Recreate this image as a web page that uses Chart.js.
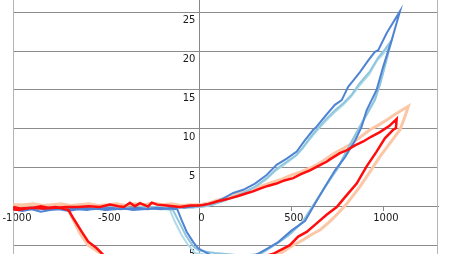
<!DOCTYPE html>
<html>
<head>
<meta charset="utf-8">
<script src="https://cdn.jsdelivr.net/npm/chart.js@4/dist/chart.umd.min.js"></script>
<style>
html,body{margin:0;padding:0;background:#fff;overflow:hidden;}
#wrap{position:relative;width:450px;height:254px;}
</style>
</head>
<body>
<div id="wrap"><canvas id="c" width="450" height="254"></canvas></div>
<script>
// ---- tick values ----
const xTicks = [-1000, -500, 0, 500, 1000];
const yTicks = [-5, 0, 5, 10, 15, 20, 25];

// ---- series: dark blue ----
const blueDarkX = [-1010,-960,-910,-860,-810,-760,-710,-660,-610,-560,-510,-460,-410,-360,-310,-260,-210,-160,-120,
  -97,-69,-34,-7,39,100,180,250,317,370,427,500,572,626,680,735,789,843,879,906,933,960,996,1042,1087,
  1015,969,951,915,870,843,806,771,734,680,635,617,570,527,473,418,364,301,237,183,129,75,21,
  -30,-80,-130,-180,-230,-280,-330,-380,-430,-480,-530,-580,-630,-680,-730,-780,-830,-880,-930,-980,-1010];
const blueDarkY = [-0.3,-0.5,-0.3,-0.6,-0.4,-0.3,-0.5,-0.3,-0.4,-0.2,-0.4,-0.3,-0.2,-0.4,-0.3,-0.2,-0.3,-0.2,-0.3,
  -1.7,-3.2,-4.5,-5.3,-5.9,-6.6,-7.0,-6.7,-6.0,-5.3,-4.5,-3.0,-1.8,0.4,2.6,4.7,6.4,8.5,10.3,12.4,13.7,15.0,18.0,21.4,25.1,
  22.3,20.1,19.9,18.8,17.3,16.5,15.4,13.7,13.1,11.6,10.3,9.9,8.5,7.1,6.2,5.4,4.1,3.0,2.2,1.8,1.1,0.5,0.3,
  0.1,-0.1,0.0,-0.2,-0.1,-0.3,-0.1,-0.2,-0.3,-0.1,-0.2,-0.3,-0.1,-0.2,-0.4,-0.2,-0.3,-0.1,-0.2,-0.4,-0.2];

// ---- series: mid light blue ----
const blueMidX = [-1010,-950,-890,-830,-770,-710,-650,-590,-530,-470,-410,-350,-290,-230,-180,
  -144,-111,-73,-35,-3,84,220,320,418,480,561,635,707,750,789,830,870,910,951,980,1005,1042,
  1005,967,924,870,825,780,735,680,635,600,560,527,473,418,364,301,237,183,129,75,20,
  -40,-100,-160,-220,-280,-340,-400,-460,-520,-580,-640,-700,-760,-820,-880,-940,-1010];
const blueMidY = [-0.2,-0.1,-0.3,-0.2,-0.1,-0.3,-0.2,-0.1,-0.3,-0.2,-0.1,-0.2,-0.3,-0.2,-0.2,
  -0.4,-1.9,-3.7,-5.0,-5.6,-5.9,-6.2,-6.2,-4.7,-3.7,-1.9,0.9,3.5,5.0,6.8,8.6,10.3,12.0,13.7,15.8,18.0,21.4,
  20.2,19.1,17.4,15.9,14.4,13.3,12.4,11.1,9.9,8.9,7.6,6.7,5.8,4.9,3.7,2.6,1.8,1.3,0.8,0.3,0.1,
  -0.1,0.0,-0.2,-0.1,0.0,-0.2,-0.1,-0.3,-0.1,-0.2,0.0,-0.1,-0.2,-0.1,0.0,-0.2,-0.1];

// ---- series: pale blue ----
const bluePaleX = [-1010,-940,-870,-800,-730,-660,-590,-520,-450,-380,-310,-240,-190,
  -160,-133,-97,-61,-24,60,200,320,436,500,555,630,700,745,785,825,865,905,945,975,1000,1032,
  995,960,920,865,820,775,730,675,630,595,555,520,470,415,360,300,235,180,125,70,20,
  -50,-120,-190,-260,-330,-400,-470,-540,-610,-680,-750,-820,-890,-960,-1010];
const bluePaleY = [-0.1,-0.2,0.0,-0.2,-0.1,-0.3,-0.1,-0.2,0.0,-0.2,-0.1,-0.2,-0.3,
  -0.4,-1.9,-3.6,-4.9,-5.9,-6.2,-6.4,-6.0,-4.45,-3.3,-2.0,0.7,3.2,4.8,6.6,8.4,10.2,11.9,13.6,15.6,17.8,20.9,
  19.6,18.7,17.0,15.5,14.1,13.0,12.1,10.8,9.6,8.6,7.4,6.5,5.6,4.7,3.5,2.5,1.7,1.2,0.7,0.3,0.0,
  0.0,-0.1,0.1,-0.1,0.0,-0.2,0.0,-0.1,0.1,-0.1,0.0,-0.1,0.0,-0.2,-0.1];

// ---- series: red ----
const redX = [-1010,-980,-940,-900,-860,-820,-780,-740,-710,
  -684,-638,-603,-557,-521,-450,-300,-100,100,250,400,490,535,581,635,689,744,790,852,906,960,1005,1050,1065,1069,
  1030,978,930,888,843,800,761,707,689,640,599,550,508,460,418,370,328,290,256,210,165,130,93,50,21,0,
  -50,-106,-180,-230,-259,-279,-322,-350,-377,-410,-440,-485,-539,-600,-660,-720,-780,-848,-910,-973,-1010];
const redY = [-0.3,-0.4,-0.2,-0.1,0.1,-0.1,0.0,-0.2,-0.4,
  -1.45,-3.2,-4.45,-5.3,-6.15,-6.9,-7.4,-7.7,-7.6,-7.0,-6.0,-4.9,-3.8,-3.2,-2.1,-1.0,0.0,1.3,3.0,5.2,7.1,8.8,9.9,10.1,11.3,
  10.4,9.6,9.0,8.4,7.9,7.3,6.9,6.1,5.8,5.2,4.7,4.2,3.7,3.4,3.0,2.7,2.35,2.0,1.76,1.4,1.1,0.9,0.7,0.4,0.26,0.2,
  0.2,0.0,0.2,0.3,0.55,0.05,0.5,0.1,0.55,0.0,0.1,0.3,0.0,0.1,0.0,0.0,-0.1,-0.2,-0.1,-0.2,0.0];

// ---- series: peach ----
const peachX = [-1010,-960,-910,-860,-810,-760,-715,
  -702,-650,-604,-539,-450,-300,-100,100,300,436,500,563,610,653,700,744,798,870,924,978,1033,1087,1114,1132,
  1096,1055,1015,970,924,890,852,815,779,740,707,650,600,550,500,450,400,350,300,250,200,150,100,50,0,
  -50,-100,-150,-200,-250,-300,-350,-400,-450,-500,-550,-600,-650,-700,-750,-800,-850,-900,-950,-1010];
const peachY = [0.2,0.0,0.3,0.1,0.0,0.2,-0.2,
  -0.8,-3.3,-4.9,-5.9,-7.2,-7.7,-8.0,-7.9,-7.2,-6.0,-5.0,-4.2,-3.5,-2.95,-2.0,-1.0,0.4,2.6,4.5,6.45,8.2,9.9,11.6,12.9,
  12.4,11.8,11.15,10.5,9.9,9.3,8.6,8.0,7.5,7.0,6.5,5.6,5.0,4.5,4.1,3.6,3.2,2.8,2.4,2.0,1.6,1.2,0.9,0.5,0.3,
  0.3,0.2,0.4,0.3,0.5,0.3,0.4,0.2,0.4,0.3,0.2,0.4,0.3,0.2,0.4,0.3,0.2,0.4,0.3,0.3];

const pts = (xs, ys) => xs.map((x, i) => ({x: x, y: ys[i]}));

const edgeLines = {
  id: 'edgeLines',
  beforeDatasetsDraw(chart) {
    const {ctx, chartArea: a} = chart;
    ctx.save();
    ctx.strokeStyle = '#b4b4b4';
    ctx.lineWidth = 1;
    ctx.beginPath();
    ctx.moveTo(a.left + 0.5, 0); ctx.lineTo(a.left + 0.5, chart.height);
    ctx.moveTo(a.right - 0.5, 0); ctx.lineTo(a.right - 0.5, chart.height);
    ctx.stroke();
    ctx.restore();
  }
};

const noPad = s => { s.paddingTop = 0; s.paddingBottom = 0; s.paddingLeft = 0; s.paddingRight = 0; };

const mk = (label, xs, ys, color, w) => ({
  label: label, data: pts(xs, ys), borderColor: color, backgroundColor: color,
  borderWidth: w, showLine: true, pointRadius: 0, tension: 0, fill: false
});

new Chart(document.getElementById('c'), {
  type: 'scatter',
  data: {
    datasets: [
      mk('red', redX, redY, '#ff0d0d', 2.5),
      mk('blueDark', blueDarkX, blueDarkY, '#4f83d3', 2),
      mk('blueMid', blueMidX, blueMidY, '#8fc5dd', 2),
      mk('bluePale', bluePaleX, bluePaleY, '#b0dbe9', 2),
      mk('peach', peachX, peachY, '#fbc7a6', 3)
    ]
  },
  options: {
    responsive: false,
    animation: false,
    layout: {padding: {left: 13, right: 12, top: 0, bottom: 0}},
    plugins: {legend: {display: false}, tooltip: {enabled: false}},
    scales: {
      x: {
        type: 'linear', position: {y: 0}, min: -1011, max: 1293,
        afterBuildTicks: s => { s.ticks = xTicks.map(v => ({value: v})); },
        afterFit: noPad,
        grid: {display: true, drawOnChartArea: true, drawTicks: true, tickLength: 4,
               color: c => (c.tick && c.tick.value === 0) ? '#888' : 'rgba(0,0,0,0)', tickColor: '#888'},
        border: {display: true, color: '#888', width: 1},
        ticks: {font: {family: 'DejaVu Sans', size: 10}, color: '#1a1a1a', padding: 1, maxRotation: 0,
                labelOffset: 2, callback: v => String(v)}
      },
      y: {
        type: 'linear', position: {x: -22}, min: -6.03, max: 26.54,
        afterBuildTicks: s => { s.ticks = yTicks.map(v => ({value: v})); },
        afterFit: noPad,
        grid: {display: true, drawTicks: false, color: '#8c8c8c', lineWidth: 1},
        border: {display: false},
        ticks: {font: {family: 'DejaVu Sans', size: 10}, color: '#1a1a1a', labelOffset: 8,
                callback: v => v === 0 ? '' : String(v)}
      }
    }
  },
  plugins: [edgeLines]
});
</script>
</body>
</html>
